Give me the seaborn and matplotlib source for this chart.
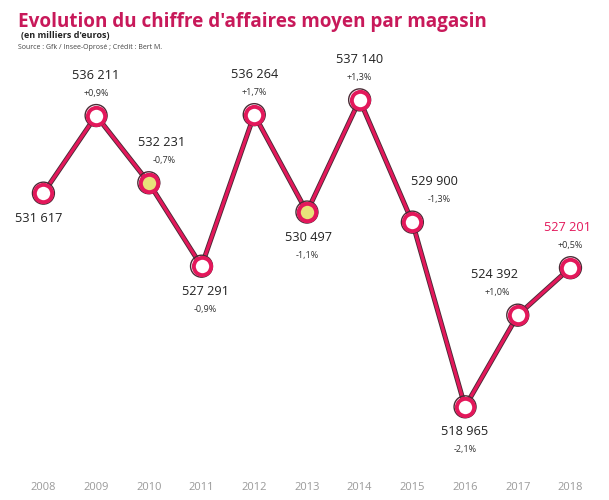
import numpy as np
import pandas as pd
import matplotlib
matplotlib.use("Agg")
import matplotlib.pyplot as plt
import matplotlib.patheffects as pe
import seaborn as sns

years = ["2008", "2009", "2010", "2011", "2012", "2013", "2014", "2015", "2016", "2017", "2018"]
values = [531617, 536211, 532231, 527291, 536264, 530497, 537140, 529900, 518965, 524392, 527201]
value_labels = ["531 617", "536 211", "532 231", "527 291", "536 264", "530 497",
                "537 140", "529 900", "518 965", "524 392", "527 201"]
pct_labels = ["", "+0,9%", "-0,7%", "-0,9%", "+1,7%", "-1,1%",
              "+1,3%", "-1,3%", "-2,1%", "+1,0%", "+0,5%"]
highlight = [2, 5]

df = pd.DataFrame({"idx": np.arange(len(years)), "value": values})

sns.set_style("white")
plt.rcParams['font.family'] = ['Open Sans', 'DejaVu Sans']

pink = "#e3185b"
dark = "#4a2a35"

fig = plt.figure(figsize=(6.09, 5.0), dpi=100)
ax = fig.add_axes([0.028, 0.12, 0.952, 0.76])

sns.lineplot(data=df, x="idx", y="value", ax=ax, color=pink, linewidth=2.3,
             path_effects=[pe.Stroke(linewidth=3.6, foreground=dark), pe.Normal()])
ax.scatter(df["idx"], df["value"], s=250, facecolor="none", edgecolor=dark, linewidth=1.0, zorder=3)
sns.scatterplot(data=df, x="idx", y="value", ax=ax, s=155, color="white",
                edgecolor=pink, linewidth=2.8, zorder=4)
sns.scatterplot(data=df.iloc[highlight], x="idx", y="value", ax=ax, s=155, color="#e8e27a",
                edgecolor=pink, linewidth=2.8, zorder=5)

# label offsets in points: value text x shift, pct x shift
above = {1: (0, 0), 2: (9, 11), 4: (0, 0), 6: (0, 0), 7: (16, 19), 9: (-17, -15), 10: (-2, 0)}
below = {0: (-3.5, 0), 3: (3, 3), 5: (1, 0), 8: (0, 0)}
for i, (v, vl, pl) in enumerate(zip(values, value_labels, pct_labels)):
    col = pink if i == len(values) - 1 else "#222222"
    if i in above:
        dx, px = above[i]
        vy, py = 29, 16
    else:
        dx, px = below[i]
        vy, py = -18, -31
    ax.annotate(vl, (i, v), xytext=(dx, vy), textcoords="offset points",
                ha="center", va="center", fontsize=9.2, color=col)
    if pl:
        ax.annotate(pl, (i, v), xytext=(px, py), textcoords="offset points",
                    ha="center", va="center", fontsize=6.5, color="#333333")

ax.set_xlim(-0.5, 10.5)
ax.set_ylim(517000, 539500)
ax.set_xticks(df["idx"])
ax.set_xticklabels(years, color="#9a9a9a", fontsize=8)
ax.set_yticks([])
ax.set_xlabel("")
ax.set_ylabel("")
ax.tick_params(axis="x", length=0, pad=30)
for s in ax.spines.values():
    s.set_visible(False)

fig.text(0.03, 0.955, "Evolution du chiffre d'affaires moyen par magasin",
         fontsize=13.6, fontweight="bold", color="#c8195a", va="center")
fig.text(0.035, 0.928, "(en milliers d'euros)", fontsize=6.5, fontweight="bold",
         color="#222222", va="center")
fig.text(0.03, 0.905, "Source : Gfk / Insee-Oprosé ; Crédit : Bert M.", fontsize=5,
         color="#444444", va="center")

fig.savefig("out.png", dpi=100)
